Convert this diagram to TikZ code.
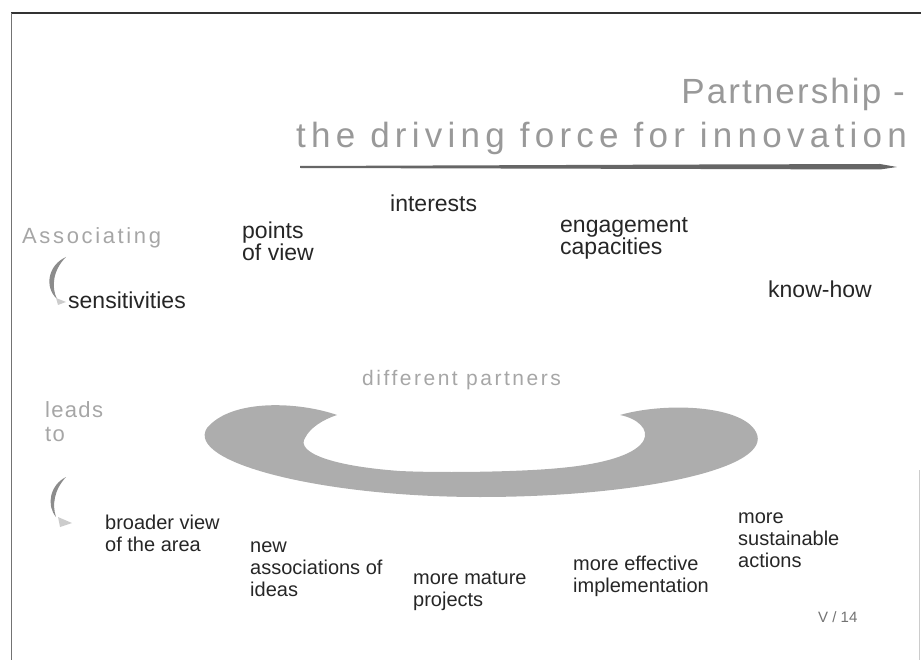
\documentclass[tikz,border=0pt]{standalone}
\usepackage{fontspec}
\setmainfont{Liberation Sans}
\newfontfamily\titlefont[LetterSpace=12]{Liberation Sans}
\newfontfamily\headfont[LetterSpace=6]{Liberation Sans}
\newfontfamily\wideheadfont[LetterSpace=15]{Liberation Sans}

\begin{document}
\begin{tikzpicture}[x=1pt, y=-1pt,
    label/.style={anchor=north west, inner sep=0pt, align=left,
        font=\fontsize{20}{22}\selectfont, text=black!85},
    biglabel/.style={label, font=\fontsize{23}{22}\selectfont},
    heading/.style={anchor=base east, inner sep=0pt,
        font=\headfont\fontsize{35}{44}\selectfont, text=black!40},
    side/.style={anchor=base west, inner sep=0pt,
        font=\titlefont\fontsize{22}{24}\selectfont, text=black!35},
    icon/.style={fill=black!45},
    band/.style={fill=black!32}]
        \useasboundingbox (0,0) rectangle (921,660);

        % frame
        \draw[black!80, line width=1.2pt] (11,13) -- (921,13);
        \draw[black!55, line width=1pt] (11,13) -- (11,660);
        \draw[black!20, line width=0.8pt] (919,470) -- (919,660);

        % title
        \node[heading] (head1) at (905,104) {Partnership -};
        \node[heading, font=\wideheadfont\fontsize{35}{44}\selectfont] (head2) at (907,148) {the driving force for innovation};
        \fill[black!60] (300,166) -- (700,164.5) -- (880,164) -- (897,167)
            -- (880,169.5) -- (700,169) -- (300,168) -- cycle;

        % partners
        \node[biglabel] (interests) at (390,195) {interests};
        \node[biglabel] (views) at (242,222) {points\\of view};
        \node[biglabel] (engage) at (560,217) {engagement\\capacities};
        \node[biglabel] (knowhow) at (768,281) {know-how};
        \node[biglabel] (sensit) at (68,292) {sensitivities};
        \node[side] (assoc) at (22,244) {Associating};
        \node[side, font=\titlefont\fontsize{21}{24}\selectfont] (partners) at (362,385) {different partners};

        % band
        \fill[band] (337,415) .. controls (300,402) and (232,398) .. (207,428)
            .. controls (185,462) and (320,497) .. (480,497)
            .. controls (640,497) and (775,468) .. (756,432)
            .. controls (742,405) and (665,402) .. (620,415)
            .. controls (655,422) and (668,458) .. (560,468)
            .. controls (520,472) and (440,473) .. (400,471)
            .. controls (330,466) and (296,452) .. (305,438)
            .. controls (310,428) and (322,420) .. (337,415) -- cycle;

        % results
        \node[side, font=\headfont\fontsize{22}{24}\selectfont] (leads) at (45,417) {leads};
        \node[side, font=\headfont\fontsize{22}{24}\selectfont] (to) at (45,441) {to};
        \node[label] (broader) at (105,515) {broader view\\of the area};
        \node[label] (newassoc) at (250,542) {new\\associations of\\ideas};
        \node[label] (mature) at (413,571) {more mature\\projects};
        \node[label] (effective) at (573,556) {more effective\\implementation};
        \node[label] (sustain) at (738,513) {more\\sustainable\\actions};
        \node[anchor=base west, inner sep=0pt, font=\fontsize{15}{18}\selectfont, text=black!55] (page) at (818,622) {V / 14};

        % small arrows
        \fill[icon] (66,257) .. controls (48,265) and (44,287) .. (57,299)
            .. controls (51,287) and (53,270) .. (66,257) -- cycle;
        \fill[black!20] (56,298) -- (66,302) -- (58,305) -- cycle;
        \fill[icon] (66,477) .. controls (50,485) and (46,505) .. (56,517)
            .. controls (52,505) and (54,490) .. (66,477) -- cycle;
        \fill[black!20] (58,517) -- (72,523) -- (60,527) -- cycle;
    \end{tikzpicture}
\end{document}
